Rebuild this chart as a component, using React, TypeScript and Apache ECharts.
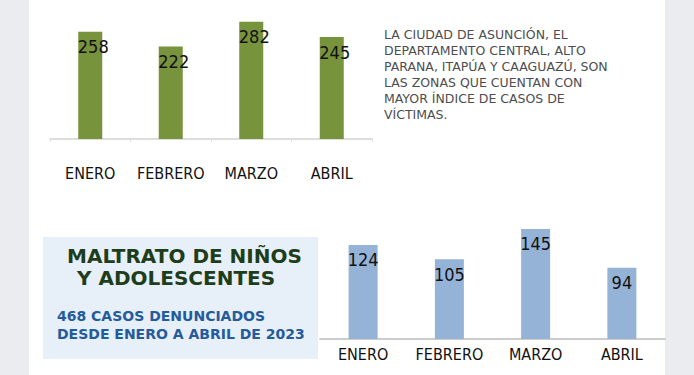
import React, { useEffect, useRef } from "react";
import * as echarts from "echarts";

const months = ["ENERO", "FEBRERO", "MARZO", "ABRIL"];
const topValues = [258, 222, 282, 245];
const bottomValues = [124, 105, 145, 94];

const noteLines = [
  "LA CIUDAD DE ASUNCIÓN, EL",
  "DEPARTAMENTO CENTRAL, ALTO",
  "PARANA, ITAPÚA Y CAAGUAZÚ, SON",
  "LAS ZONAS QUE CUENTAN CON",
  "MAYOR ÍNDICE DE CASOS DE",
  "VÍCTIMAS.",
];
const boxTitle = ["MALTRATO DE NIÑOS", "Y ADOLESCENTES"];
const boxSubtitle = ["468 CASOS DENUNCIADOS", "DESDE ENERO A ABRIL DE 2023"];

const NARROW = "'Liberation Sans Narrow', 'DejaVu Sans Condensed', sans-serif";

export default function App() {
  const ref = useRef<HTMLDivElement>(null);

  useEffect(() => {
    if (!ref.current) return;
    const chart = echarts.init(ref.current, null, { renderer: "svg" });

    const labelStyle = {
      show: true,
      position: "insideTop",
      distance: 6,
      color: "#111",
      fontFamily: NARROW,
      fontSize: 18,
    };
    const axisLabelStyle = {
      color: "#111",
      fontFamily: NARROW,
      fontSize: 16,
      interval: 0,
    };

    const graphic: any[] = [
      { type: "rect", z: -10, shape: { x: 0, y: 0, width: 29, height: 375 }, style: { fill: "#ebecf0" } },
      { type: "rect", z: -10, shape: { x: 665, y: 0, width: 29, height: 375 }, style: { fill: "#ebecf0" } },
      { type: "rect", z: -9, shape: { x: 43, y: 237, width: 275, height: 122 }, style: { fill: "#e7eff8" } },
    ];
    noteLines.forEach((t, i) => {
      graphic.push({
        type: "text",
        z: 10,
        x: 384,
        y: 28 + i * 16,
        style: {
          text: t,
          fill: "#4d4d4d",
          font: "normal 12.5px 'DejaVu Sans', sans-serif",
          textVerticalAlign: "top",
        },
      });
    });
    boxTitle.forEach((t, i) => {
      graphic.push({
        type: "text",
        z: 10,
        x: i === 0 ? 67 : 77,
        y: 246 + i * 22,
        style: {
          text: t,
          fill: "#1d3d1b",
          font: "bold 20px 'DejaVu Sans', sans-serif",
          textVerticalAlign: "top",
        },
      });
    });
    boxSubtitle.forEach((t, i) => {
      graphic.push({
        type: "text",
        z: 10,
        x: 57,
        y: 309 + i * 18,
        style: {
          text: t,
          fill: "#245b9b",
          font: "bold 14px 'DejaVu Sans', sans-serif",
          textVerticalAlign: "top",
        },
      });
    });

    chart.setOption({
      animation: false,
      backgroundColor: "#ffffff",
      graphic,
      grid: [
        { left: 50, top: 10, width: 322, height: 129 },
        { left: 320, top: 210, width: 345, height: 129 },
      ],
      xAxis: [
        {
          type: "category",
          gridIndex: 0,
          data: months,
          axisLine: { lineStyle: { color: "#d2d2d2", width: 1.5 } },
          axisTick: { show: true, length: 3, lineStyle: { color: "#dddddd" } },
          axisLabel: { ...axisLabelStyle, margin: 26 },
        },
        {
          type: "category",
          gridIndex: 1,
          data: months,
          axisLine: { lineStyle: { color: "#cccccc", width: 2 } },
          axisTick: { show: false },
          axisLabel: { ...axisLabelStyle, margin: 7 },
        },
      ],
      yAxis: [
        { type: "value", gridIndex: 0, min: 0, max: 310, show: false },
        { type: "value", gridIndex: 1, min: 0, max: 170, show: false },
      ],
      series: [
        {
          type: "bar",
          xAxisIndex: 0,
          yAxisIndex: 0,
          data: topValues,
          barWidth: 24,
          itemStyle: { color: "#77933c" },
          label: { ...labelStyle, offset: [3, 0] },
        },
        {
          type: "bar",
          xAxisIndex: 1,
          yAxisIndex: 1,
          data: bottomValues,
          barWidth: 29,
          itemStyle: { color: "#95b3d7" },
          label: labelStyle,
        },
      ],
    });

    return () => chart.dispose();
  }, []);

  return (
    <div
      ref={ref}
      style={{ position: "absolute", left: 0, top: 0, width: 694, height: 375 }}
    />
  );
}
